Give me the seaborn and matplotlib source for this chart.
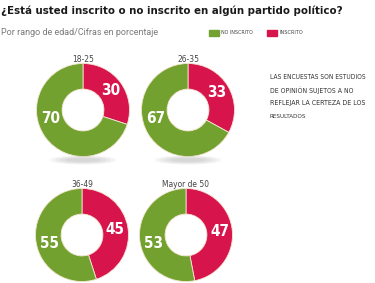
import matplotlib
matplotlib.use("Agg")
import matplotlib.pyplot as plt
from matplotlib.patches import Ellipse
import seaborn as sns
import math

# ---- data ----
groups = ["18-25", "26-35", "36-49", "Mayor de 50"]
inscrito = [30, 33, 45, 47]
no_inscrito = [70, 67, 55, 53]
series_labels = ["NO INSCRITO", "INSCRITO"]
title = "¿Está usted inscrito o no inscrito en algún partido político?"
subtitle = "Por rango de edad/Cifras en porcentaje"
note = "LAS ENCUESTAS SON ESTUDIOS\nDE OPINIÓN SUJETOS A NO\nREFLEJAR LA CERTEZA DE LOS\nRESULTADOS"

sns.set_theme(style="white")
plt.rcParams["font.family"] = ["DejaVu Sans"]
plt.rcParams["font.stretch"] = "condensed"

GREEN = "#72a12f"
RED = "#d7154c"
W, H = 375, 283
fig = plt.figure(figsize=(W / 100, H / 100), dpi=100)
fig.patch.set_facecolor("white")
renderer = fig.canvas.get_renderer()


def fx(x):
    return x / W


def fy(y):
    return 1 - y / H


def fit(t, maxw):
    for _ in range(30):
        w = t.get_window_extent(renderer=renderer).width
        if w <= maxw:
            break
        t.set_fontsize(t.get_fontsize() * maxw / w * 0.995)
    return t


fit(fig.text(fx(1), fy(11), title, fontsize=12, fontweight="bold", color="#1a1a1a",
             va="center", ha="left", fontstretch="condensed"), 342)
fit(fig.text(fx(1), fy(33), subtitle, fontsize=6.5, color="#7a7a7a", va="center",
             ha="left", family=["Roboto", "DejaVu Sans"], fontstretch="normal"), 175)

# legend
for (lx, col, lab, lw) in [(209, GREEN, series_labels[0], 33), (267, RED, series_labels[1], 24)]:
    fig.patches.append(plt.Rectangle((fx(lx), fy(36)), 10 / W, 6 / H, color=col,
                                     transform=fig.transFigure, figure=fig))
    fit(fig.text(fx(lx + 12), fy(33), lab, fontsize=5, color="#444444",
                 va="center", ha="left"), lw)

note_lines = note.split("\n")
for j, line in enumerate(note_lines):
    fit(fig.text(fx(270), fy(77 + j * 13.2), line, fontsize=7, color="#333333",
                 va="center", ha="left"), 96 if j == 0 else 96 * len(line) / len(note_lines[0]))

centers = [(83, 110), (188, 110), (82, 235), (186, 235)]
R = 46.5
for i, (cx, cy) in enumerate(centers):
    if i < 2:
        for k, a in enumerate([0.10, 0.10, 0.10, 0.12]):
            w = 66 - k * 10
            h = 9 - k * 1.6
            fig.patches.append(Ellipse((fx(cx), fy(160)), w / W, h / H,
                                       color="#9a9a9a", alpha=a, lw=0,
                                       transform=fig.transFigure, figure=fig))
    ax = fig.add_axes([fx(cx - R), fy(cy + R), 2 * R / W, 2 * R / H])
    ax.pie([inscrito[i], no_inscrito[i]], colors=[RED, GREEN], startangle=90,
           counterclock=False, radius=1,
           wedgeprops=dict(width=0.55, edgecolor="#f3e6d0", linewidth=0.6))
    ax.set_xlim(-1, 1)
    ax.set_ylim(-1, 1)
    ax.set_aspect("equal")
    ax.axis("off")
    rmid = 1 - 0.55 / 2
    mid = inscrito[i] / 100 * 360 / 2
    ax.text(rmid * math.sin(math.radians(mid)), rmid * math.cos(math.radians(mid)),
            str(inscrito[i]), color="white", fontsize=11, fontweight="bold",
            ha="center", va="center")
    gang = 256
    ax.text(rmid * math.sin(math.radians(gang)), rmid * math.cos(math.radians(gang)),
            str(no_inscrito[i]), color="white", fontsize=11, fontweight="bold",
            ha="center", va="center")
    fig.text(fx(cx), fy(cy - R - 4), groups[i], fontsize=6, color="#444444",
             ha="center", va="center")

fig.savefig("out.png", dpi=100, facecolor="white")
